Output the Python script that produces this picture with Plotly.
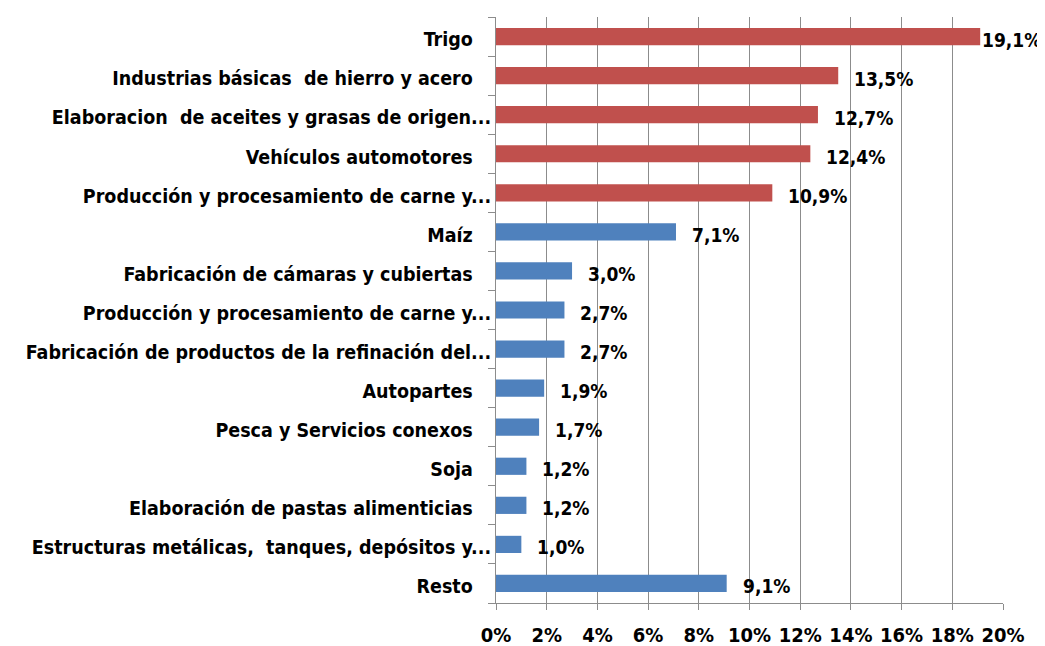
import plotly.graph_objects as go

# datos (participación %)
categorias = [
    "Trigo",
    "Industrias básicas  de hierro y acero",
    "Elaboracion  de aceites y grasas de origen...",
    "Vehículos automotores",
    "Producción y procesamiento de carne y...",
    "Maíz",
    "Fabricación de cámaras y cubiertas",
    "Producción y procesamiento de carne y... ",
    "Fabricación de productos de la refinación del...",
    "Autopartes",
    "Pesca y Servicios conexos",
    "Soja",
    "Elaboración de pastas alimenticias",
    "Estructuras metálicas,  tanques, depósitos y...",
    "Resto",
]
valores = [19.1, 13.5, 12.7, 12.4, 10.9, 7.1, 3.0, 2.7, 2.7, 1.9, 1.7, 1.2, 1.2, 1.0, 9.1]
colores = ["#C0504D"] * 5 + ["#4F81BD"] * 10
ticks_x = [0, 2, 4, 6, 8, 10, 12, 14, 16, 18, 20]

FUENTE = "DejaVu Sans Condensed, Liberation Sans, sans-serif"

# las etiquetas no truncadas llevan un espacio al final (como en Excel)
etiquetas_y = [c.strip() if c.strip().endswith("...") else c + "\u00a0\u00a0\u00a0"
               for c in categorias]

fig = go.Figure(go.Bar(
    x=[v / 100 for v in valores],
    y=categorias,
    orientation="h",
    marker=dict(color=colores, line=dict(width=0)),
    width=0.44,
    hoverinfo="skip",
))

# etiquetas de datos
for cat, v in zip(categorias, valores):
    fig.add_annotation(
        x=v / 100, y=cat, text=f"{v:.1f}%".replace(".", ","),
        showarrow=False, xanchor="left", yanchor="middle",
        xshift=0 if v > 15 else 14, yshift=-3,
        font=dict(family=FUENTE, size=19, color="black", weight="bold"),
    )

# la página agrega 8px de margen al cuerpo: se compensa en los márgenes
fig.update_layout(
    width=1045, height=646,
    margin=dict(l=488, r=50, t=9, b=51),
    paper_bgcolor="white", plot_bgcolor="white",
    showlegend=False,
    font=dict(family=FUENTE, size=19, color="black", weight="bold"),
)
fig.update_xaxes(
    range=[0, 0.2], tickvals=[t / 100 for t in ticks_x],
    ticktext=[f"{t}%" for t in ticks_x],
    showgrid=True, gridcolor="#8C8C8C", gridwidth=1,
    showline=True, linecolor="#8C8C8C", linewidth=1,
    ticks="outside", ticklen=6, tickcolor="#8C8C8C",
    ticklabelstandoff=8,
    tickfont=dict(family=FUENTE, size=20, weight="bold"),
    zeroline=False, fixedrange=True, automargin=False,
)
fig.update_yaxes(
    autorange="reversed", categoryorder="array", categoryarray=categorias,
    tickmode="array", tickvals=categorias, ticktext=etiquetas_y,
    showline=True, linecolor="#8C8C8C", linewidth=1,
    ticks="outside", ticklen=7, tickcolor="#8C8C8C", tickson="boundaries",
    ticklabelstandoff=0, ticklabelshift=-3,
    tickfont=dict(family=FUENTE, size=19.5, weight="bold"),
    showgrid=False, fixedrange=True, automargin=False,
)

fig.write_html("out.html")
